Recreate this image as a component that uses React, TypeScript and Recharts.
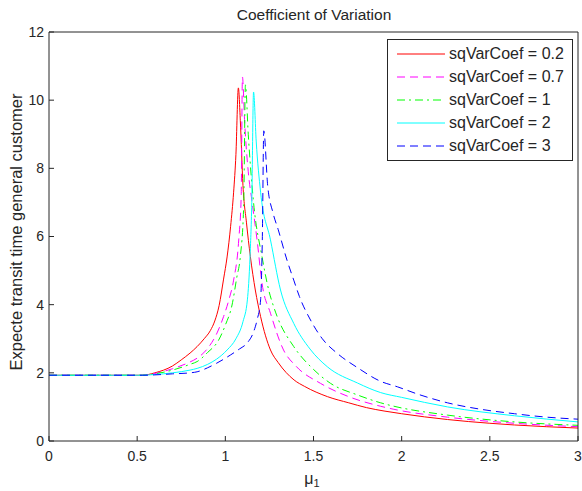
import { LineChart, Line, XAxis, YAxis, Legend } from 'recharts'

const FONT = '"Liberation Sans", Arial, Helvetica, sans-serif'

const xTicks = [0, 0.5, 1, 1.5, 2, 2.5, 3]
const yTicks = [0, 2, 4, 6, 8, 10, 12]

// sqVarCoef = 0.2
const muA = [0, 0.53, 0.6, 0.7, 0.75, 0.8, 0.84, 0.88, 0.915, 0.94, 0.965, 0.99, 1.01, 1.03, 1.047, 1.06, 1.074, 1.085, 1.1, 1.12, 1.142, 1.17, 1.2, 1.256, 1.3, 1.39, 1.45, 1.58, 1.7, 1.8, 1.9, 2.0, 2.26, 2.5, 2.64, 3.0]
const tA = [1.93, 1.93, 2.0, 2.2, 2.38, 2.58, 2.77, 3.0, 3.24, 3.52, 3.98, 4.75, 5.4, 6.3, 7.3, 8.4, 10.36, 9.4, 7.5, 6.4, 5.41, 4.43, 3.65, 2.67, 2.3, 1.79, 1.6, 1.3, 1.12, 0.98, 0.88, 0.8, 0.63, 0.52, 0.47, 0.38]

// sqVarCoef = 0.7
const muB = [0, 0.53, 0.6, 0.7, 0.8, 0.84, 0.9, 0.953, 0.99, 1.02, 1.047, 1.076, 1.09, 1.097, 1.11, 1.13, 1.152, 1.18, 1.208, 1.256, 1.33, 1.4, 1.54, 1.7, 1.88, 1.956, 2.26, 2.64, 3.0]
const tB = [1.93, 1.93, 1.98, 2.12, 2.32, 2.43, 2.72, 3.17, 3.65, 4.14, 4.72, 5.9, 7.2, 10.68, 9.3, 7.9, 7.0, 5.9, 4.63, 3.75, 2.67, 2.2, 1.69, 1.3, 1.02, 0.93, 0.7, 0.52, 0.42]

// sqVarCoef = 1
const muC = [0, 0.53, 0.6, 0.7, 0.8, 0.84, 0.9, 0.962, 1.0, 1.038, 1.065, 1.085, 1.104, 1.114, 1.13, 1.16, 1.208, 1.246, 1.274, 1.294, 1.388, 1.5, 1.597, 1.75, 1.881, 1.956, 2.26, 2.64, 3.0]
const tC = [1.93, 1.93, 1.97, 2.08, 2.25, 2.33, 2.6, 2.96, 3.4, 3.99, 4.8, 5.41, 6.88, 10.45, 9.0, 7.0, 5.41, 4.43, 3.94, 3.65, 2.77, 2.1, 1.69, 1.35, 1.12, 1.02, 0.76, 0.56, 0.46]

// sqVarCoef = 2
const muD = [0, 0.53, 0.6, 0.7, 0.8, 0.84, 0.9, 0.95, 1.01, 1.06, 1.1, 1.125, 1.14, 1.15, 1.16, 1.175, 1.2, 1.256, 1.313, 1.388, 1.48, 1.578, 1.75, 1.881, 2.0, 2.26, 2.64, 3.0]
const tD = [1.93, 1.93, 1.95, 2.0, 2.08, 2.13, 2.25, 2.4, 2.67, 3.0, 3.5, 4.14, 5.4, 7.0, 10.24, 8.8, 7.3, 5.9, 4.43, 3.45, 2.7, 2.18, 1.7, 1.42, 1.28, 1.0, 0.74, 0.56]

// sqVarCoef = 3
const muE = [0, 0.53, 0.6, 0.7, 0.8, 0.84, 0.9, 0.95, 1.028, 1.08, 1.123, 1.16, 1.18, 1.2, 1.21, 1.218, 1.24, 1.27, 1.3, 1.35, 1.388, 1.42, 1.483, 1.55, 1.635, 1.75, 1.881, 1.976, 2.1, 2.26, 2.45, 2.64, 2.8, 3.0]
const tE = [1.93, 1.93, 1.94, 1.97, 2.0, 2.03, 2.15, 2.28, 2.52, 2.7, 2.87, 3.2, 3.55, 4.14, 6.0, 9.1, 7.5, 6.7, 6.2, 5.3, 4.72, 4.24, 3.55, 3.0, 2.57, 2.15, 1.75, 1.59, 1.36, 1.12, 0.93, 0.8, 0.71, 0.64]

const toPoints = (xs: number[], ys: number[]) => xs.map((x, i) => ({ x, y: ys[i] }))

const series = [
  { name: 'sqVarCoef = 0.2', color: '#ff0000', dash: undefined, data: toPoints(muA, tA) },
  { name: 'sqVarCoef = 0.7', color: '#ff00ff', dash: '8 5', data: toPoints(muB, tB) },
  { name: 'sqVarCoef = 1', color: '#00ff00', dash: '8 4 2 4', data: toPoints(muC, tC) },
  { name: 'sqVarCoef = 2', color: '#00ffff', dash: undefined, data: toPoints(muD, tD) },
  { name: 'sqVarCoef = 3', color: '#0000ff', dash: '8 5', data: toPoints(muE, tE) },
]

const axisColor = '#262626'
const tickStyle = { fill: '#262626', fontSize: 14, fontFamily: FONT }

function LegendBox() {
  return (
    <div
      style={{
        border: '1px solid #262626',
        background: '#fff',
        padding: '2px 0 3px 0',
        fontFamily: FONT,
        fontSize: 16,
        color: '#262626',
      }}
    >
      {series.map(s => (
        <div key={s.name} style={{ display: 'flex', alignItems: 'center', height: 23 }}>
          <svg width={60} height={10}>
            <line x1={9} y1={5} x2={57} y2={5} stroke={s.color} strokeWidth={1} strokeDasharray={s.dash} />
          </svg>
          <span style={{ marginLeft: 1, whiteSpace: 'nowrap' }}>{s.name}</span>
        </div>
      ))}
    </div>
  )
}

export default function App() {
  return (
    <div style={{ position: 'absolute', left: 0, top: 0, width: 582, height: 491, background: '#fff' }}>
      <LineChart width={582} height={491} margin={{ top: 31, right: 3, bottom: 0, left: 0 }}>
        <XAxis
          xAxisId="b"
          dataKey="x"
          type="number"
          domain={[0, 3]}
          ticks={xTicks}
          height={50}
          allowDataOverflow
          tickSize={-5}
          tickMargin={15}
          tick={tickStyle}
          stroke={axisColor}
        />
        <XAxis
          xAxisId="t"
          dataKey="x"
          type="number"
          orientation="top"
          domain={[0, 3]}
          ticks={xTicks}
          height={1}
          tickSize={-5}
          tick={false}
          stroke={axisColor}
        />
        <YAxis
          yAxisId="l"
          type="number"
          domain={[0, 12]}
          ticks={yTicks}
          width={49}
          tickSize={-5}
          tickMargin={10}
          tick={tickStyle}
          stroke={axisColor}
        />
        <YAxis
          yAxisId="r"
          type="number"
          orientation="right"
          domain={[0, 12]}
          ticks={yTicks}
          width={1}
          tickSize={-5}
          tick={false}
          stroke={axisColor}
        />
        <Legend
          layout="vertical"
          align="center"
          verticalAlign="middle"
          wrapperStyle={{ left: 387, top: 39, width: 186 }}
          content={() => <LegendBox />}
        />
        {series.map(s => (
          <Line
            key={s.name}
            xAxisId="b"
            yAxisId="l"
            data={s.data}
            dataKey="y"
            name={s.name}
            type="monotone"
            stroke={s.color}
            strokeWidth={1}
            strokeDasharray={s.dash}
            dot={false}
            activeDot={false}
            isAnimationActive={false}
          />
        ))}
      </LineChart>
      <svg
        width={582}
        height={491}
        style={{ position: 'absolute', left: 0, top: 0, pointerEvents: 'none' }}
        fontFamily={FONT}
        fill="#262626"
      >
        <text x={314} y={20} fontSize={15.5} textAnchor="middle">Coefficient of Variation</text>
        <text x={22} y={232} fontSize={16.5} textAnchor="middle" transform="rotate(-90 22 232)">
          Expecte transit time general customer
        </text>
        <text x={312} y={484} fontSize={16} textAnchor="middle">
          μ<tspan fontSize={11} dy={3}>1</tspan>
        </text>
      </svg>
    </div>
  )
}
